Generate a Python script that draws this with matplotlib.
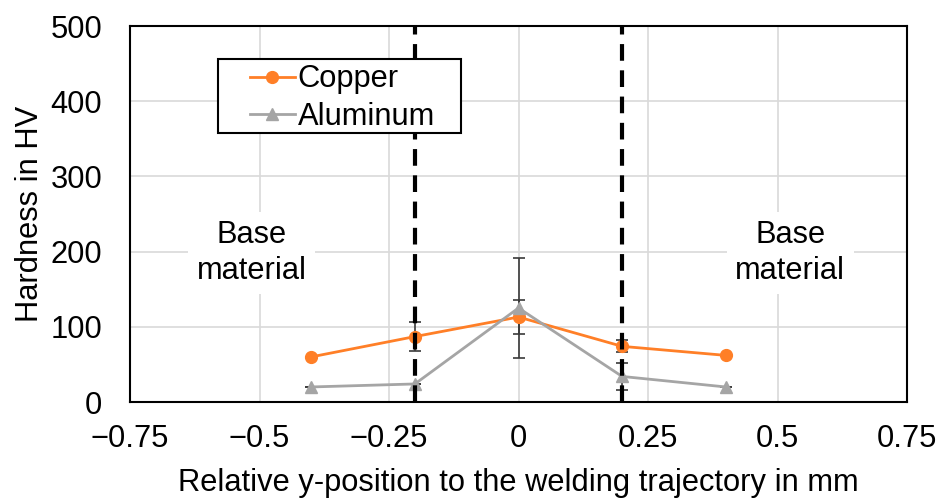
import numpy as np
import matplotlib
matplotlib.use('agg')
import matplotlib.pyplot as plt
from matplotlib.patches import Rectangle

plt.rcParams['font.family'] = ['Liberation Sans', 'DejaVu Sans']

# Hardness profile across the weld
pos = [-0.4, -0.2, 0.0, 0.2, 0.4]
copper = [60, 87, 113, 74, 62]
copper_err = [0, 19, 22, 8, 0]
aluminum = [20, 24, 125, 34, 20]
aluminum_err = [0, 0, 66, 18, 0]
weld_edges = [-0.2, 0.2]
xticks = [-0.75, -0.5, -0.25, 0, 0.25, 0.5, 0.75]
xtick_labels = ['\u22120.75', '\u22120.5', '\u22120.25', '0', '0.25', '0.5', '0.75']

orange = '#FF7F27'
grey = '#A5A5A5'
fs = 22.2

fig = plt.figure(figsize=(9.44, 4.99), dpi=100)
ax = fig.add_axes([130 / 944, 1 - 402 / 499, 777 / 944, 376 / 499])

ax.set_xlim(-0.75, 0.75)
ax.set_ylim(0, 500)
ax.set_xticks(xticks)
ax.set_xticklabels(xtick_labels)
ax.set_yticks(np.arange(0, 501, 100))
ax.grid(True, color='#D9D9D9', linewidth=1.2)
ax.set_axisbelow(True)
ax.tick_params(axis='both', length=0, labelsize=fs)
ax.tick_params(axis='x', pad=16)
ax.tick_params(axis='y', pad=20)
for s in ax.spines.values():
    s.set_linewidth(1.5)
    s.set_color('black')

# error bars drawn separately so the legend shows plain line + marker
ax.errorbar(pos, copper, yerr=copper_err, fmt='none', ecolor='#3A3A3A',
            elinewidth=1.2, capsize=4, capthick=1.2, zorder=3)
ax.errorbar(pos, aluminum, yerr=aluminum_err, fmt='none', ecolor='#3A3A3A',
            elinewidth=1.2, capsize=4, capthick=1.2, zorder=3)
ax.plot(pos, copper, color=orange, marker='o', markersize=8.5, linewidth=2,
        label='Copper', zorder=4)
ax.plot(pos, aluminum, color=grey, marker='^', markersize=8.5, linewidth=2,
        label='Aluminum', zorder=4)

for xe in weld_edges:
    ax.axvline(xe, color='black', linewidth=3, linestyle=(0, (4, 2.3)), zorder=5)

for xt in [-0.515, 0.525]:
    ax.text(xt, 198, 'Base\nmaterial', ha='center', va='center', fontsize=fs,
            linespacing=1.25, zorder=2,
            bbox=dict(facecolor='white', edgecolor='none', pad=6))

# legend box with wide side margins
box = Rectangle((0.1133, 0.715), 0.3127, 0.197, transform=ax.transAxes,
                facecolor='white', edgecolor='black', linewidth=1.5, zorder=6)
ax.add_patch(box)
leg = ax.legend(loc='upper left', bbox_to_anchor=(0.1544, 0.898), fontsize=fs,
                frameon=False, handlelength=1.45, handletextpad=0.1,
                borderpad=0, labelspacing=0.25, borderaxespad=0)
leg.set_zorder(7)

ax.set_xlabel('Relative y-position to the welding trajectory in mm', fontsize=fs, labelpad=10)
ax.set_ylabel('Hardness in HV', fontsize=fs, labelpad=4)

plt.savefig('out.png', dpi=100)
